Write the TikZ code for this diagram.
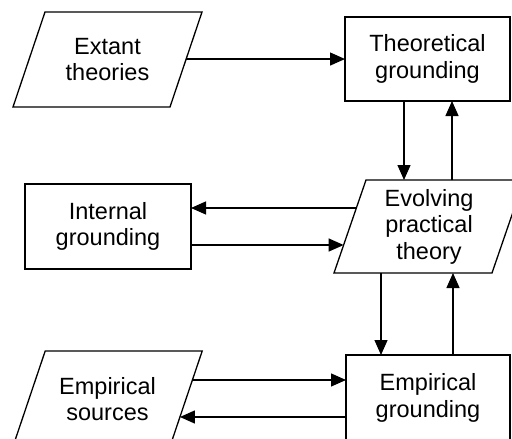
\documentclass[tikz,border=0pt]{standalone}
\usepackage{fontspec}
\setmainfont{Liberation Sans}
\usetikzlibrary{arrows.meta,calc}
\tikzset{
  lbl/.style={font=\fontsize{23.5}{26.5}\selectfont, align=center, inner sep=0pt, outer sep=0pt, line width=1.3pt},
  box/.style={lbl, rectangle, draw=black},
  para/.style={lbl, rectangle},
  edge/.style={line width=1.3pt, line join=miter},
  arr/.style={line width=1.3pt, -{Triangle[length=15pt,width=13pt]}}
}
\newcommand{\parashape}[2]{%
  \draw[edge] ([xshift=#2]#1.north west) -- ([xshift=#2]#1.north east) --
    ([xshift=-#2]#1.south east) -- ([xshift=-#2]#1.south west) -- cycle;}
\begin{document}
\begin{tikzpicture}[x=1pt,y=-1pt]
\useasboundingbox (0,0) rectangle (512,439);
\clip (0,0) rectangle (512,439);
\fill[white] (0,0) rectangle (512,439);

\node[para, minimum width=157pt, minimum height=95pt] (ext) at (107.5,59.5) {Extant\\theories};
\parashape{ext}{16pt}
\node[box, minimum width=165pt, minimum height=84pt] (theo) at (427.5,59) {Theoretical\\grounding};
\node[box, minimum width=166pt, minimum height=85pt] (int) at (108,226.5) {Internal\\grounding};
\node[para, minimum width=158pt, minimum height=93pt] (evo) at (429,226.5) {Evolving\\practical\\theory};
\parashape{evo}{16pt}
\node[para, minimum width=157pt, minimum height=96pt] (emps) at (107.5,399) {Empirical\\sources};
\parashape{emps}{16.2pt}
\node[box, minimum width=164pt, minimum height=86pt] (empg) at (428,398) {Empirical\\grounding};

% Extant -> Theoretical
\coordinate (x1) at ($([xshift=-16pt]ext.south east)!0.505!([xshift=16pt]ext.north east)$);
\draw[arr] (x1) -- (x1 -| theo.west);

% Theoretical <-> Evolving
\draw[arr] ([xshift=-23.5pt]theo.south) -- ([xshift=-23.5pt]theo.south |- evo.north);
\draw[arr] ([xshift=24.5pt]theo.south |- evo.north) -- ([xshift=24.5pt]theo.south);

% Evolving <-> Internal
\coordinate (e1) at ($([xshift=-16pt]evo.south west)!0.699!([xshift=16pt]evo.north west)$);
\coordinate (e2) at ($([xshift=-16pt]evo.south west)!0.301!([xshift=16pt]evo.north west)$);
\draw[arr] (e1) -- (e1 -| int.east);
\draw[arr] (e2 -| int.east) -- (e2);

% Evolving <-> Empirical grounding
\draw[arr] ([xshift=-47pt]empg.north |- evo.south) -- ([xshift=-47pt]empg.north);
\draw[arr] ([xshift=25pt]empg.north) -- ([xshift=25pt]empg.north |- evo.south);

% Empirical sources <-> Empirical grounding
\coordinate (s1) at ($([xshift=-16.2pt]emps.south east)!0.698!([xshift=16.2pt]emps.north east)$);
\coordinate (s2) at ($([xshift=-16.2pt]emps.south east)!0.3125!([xshift=16.2pt]emps.north east)$);
\draw[arr] (s1) -- (s1 -| empg.west);
\draw[arr] (s2 -| empg.west) -- (s2);
\end{tikzpicture}
\end{document}
